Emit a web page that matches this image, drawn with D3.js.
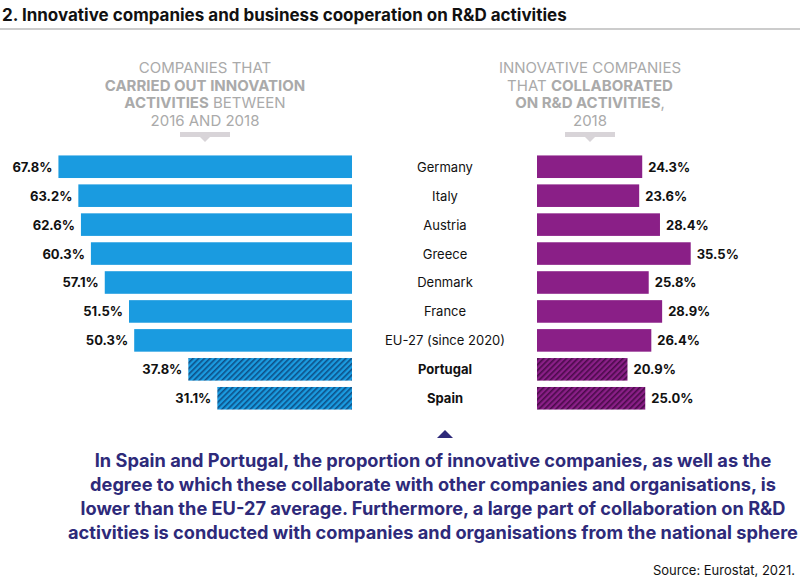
<!DOCTYPE html>
<html><head><meta charset="utf-8">
<script src="https://cdn.jsdelivr.net/npm/d3@7"></script>
<style>body{margin:0;background:#fff}svg{font-family:"Inter","Roboto",sans-serif}</style>
</head><body><svg id="c" width="800" height="586"></svg>
<script>
var countries = ['Germany','Italy','Austria','Greece','Denmark','France','EU-27 (since 2020)','Portugal','Spain']
var innovation = [67.8,63.2,62.6,60.3,57.1,51.5,50.3,37.8,31.1]
var collab = [24.3,23.6,28.4,35.5,25.8,28.9,26.4,20.9,25.0]
var hatched = ['Portugal','Spain']

var svg = d3.select('#c')
var defs = svg.append('defs')
function hatch(id, bg, fg) {
  var p = defs.append('pattern').attr('id', id).attr('width', 4).attr('height', 4)
    .attr('patternUnits', 'userSpaceOnUse').attr('patternTransform', 'rotate(45)')
  p.append('rect').attr('width', 4).attr('height', 4).attr('fill', bg)
  p.append('rect').attr('width', 1.6).attr('height', 4).attr('fill', fg)
}
hatch('hb', '#1a9be0', '#0d4f86')
hatch('hp', '#8a1f87', '#4a0a4a')

svg.append('text').attr('x', 2).attr('y', 21).attr('font-size', 17).attr('font-weight', 700)
  .attr('fill', '#111').text('2. Innovative companies and business cooperation on R&D activities')
svg.append('line').attr('x1', 0).attr('x2', 800).attr('y1', 29).attr('y2', 29).attr('stroke', '#bbb').attr('stroke-width', 1.5)

function header(cx, lines) {
  lines.forEach(function(l, i) {
    var t = svg.append('text').attr('x', cx).attr('y', 73 + i * 17.5).attr('text-anchor', 'middle')
      .attr('font-size', 15).attr('fill', '#aaa')
    l.forEach(function(s) { t.append('tspan').attr('font-weight', s[1] ? 700 : 400).text(s[0]) })
  })
  svg.append('rect').attr('x', cx - 25).attr('y', 132).attr('width', 50).attr('height', 5).attr('fill', '#d8d4d8')
  svg.append('path').attr('d', 'M' + (cx - 5) + ',137L' + (cx + 5) + ',137L' + cx + ',142Z').attr('fill', '#d8d4d8')
}
header(205, [[['COMPANIES THAT', 0]], [['CARRIED OUT INNOVATION', 1]], [['ACTIVITIES', 1], [' BETWEEN', 0]], [['2016 AND 2018', 0]]])
header(590, [[['INNOVATIVE COMPANIES', 0]], [['THAT ', 0], ['COLLABORATED', 1]], [['ON R&D ACTIVITIES', 1], [',', 0]], [['2018', 0]]])

var y = d3.scaleBand().domain(countries).range([154, 411]).paddingInner(0.22).paddingOuter(0.05)
var x = d3.scaleLinear().domain([0, 100]).range([0, 433])

var rows = svg.selectAll('g.r').data(countries).enter().append('g')
  .attr('transform', function(d) { return 'translate(0,' + y(d) + ')' })
var bh = y.bandwidth()
rows.append('rect').attr('x', function(d, i) { return 352 - x(innovation[i]) }).attr('width', function(d, i) { return x(innovation[i]) })
  .attr('height', bh).attr('fill', function(d) { return hatched.includes(d) ? 'url(#hb)' : '#1a9be0' })
rows.append('text').attr('x', function(d, i) { return 352 - x(innovation[i]) - 6 }).attr('y', bh / 2 + 5)
  .attr('text-anchor', 'end').attr('font-size', 13).attr('font-weight', 700).attr('fill', '#111')
  .text(function(d, i) { return innovation[i].toFixed(1) + '%' })
rows.append('rect').attr('x', 537).attr('width', function(d, i) { return x(collab[i]) })
  .attr('height', bh).attr('fill', function(d) { return hatched.includes(d) ? 'url(#hp)' : '#8a1f87' })
rows.append('text').attr('x', function(d, i) { return 537 + x(collab[i]) + 6 }).attr('y', bh / 2 + 5)
  .attr('font-size', 13).attr('font-weight', 700).attr('fill', '#111')
  .text(function(d, i) { return collab[i].toFixed(1) + '%' })
rows.append('text').attr('x', 445).attr('y', bh / 2 + 5).attr('text-anchor', 'middle').attr('font-size', 13)
  .attr('font-weight', function(d) { return hatched.includes(d) ? 700 : 400 }).attr('fill', '#111').text(function(d) { return d })

svg.append('path').attr('d', 'M437,438L453,438L445,430Z').attr('fill', '#2e2a7a')
var note = ['In Spain and Portugal, the proportion of innovative companies, as well as the',
  'degree to which these collaborate with other companies and organisations, is',
  'lower than the EU-27 average. Furthermore, a large part of collaboration on R&D',
  'activities is conducted with companies and organisations from the national sphere']
svg.selectAll('text.n').data(note).enter().append('text').attr('x', 433).attr('y', function(d, i) { return 467 + i * 24 })
  .attr('text-anchor', 'middle').attr('font-size', 18.2).attr('font-weight', 700).attr('fill', '#2e2a7a').text(function(d) { return d })
svg.append('text').attr('x', 795).attr('y', 575).attr('text-anchor', 'end').attr('font-size', 13).attr('fill', '#111').text('Source: Eurostat, 2021.')
</script></body></html>
